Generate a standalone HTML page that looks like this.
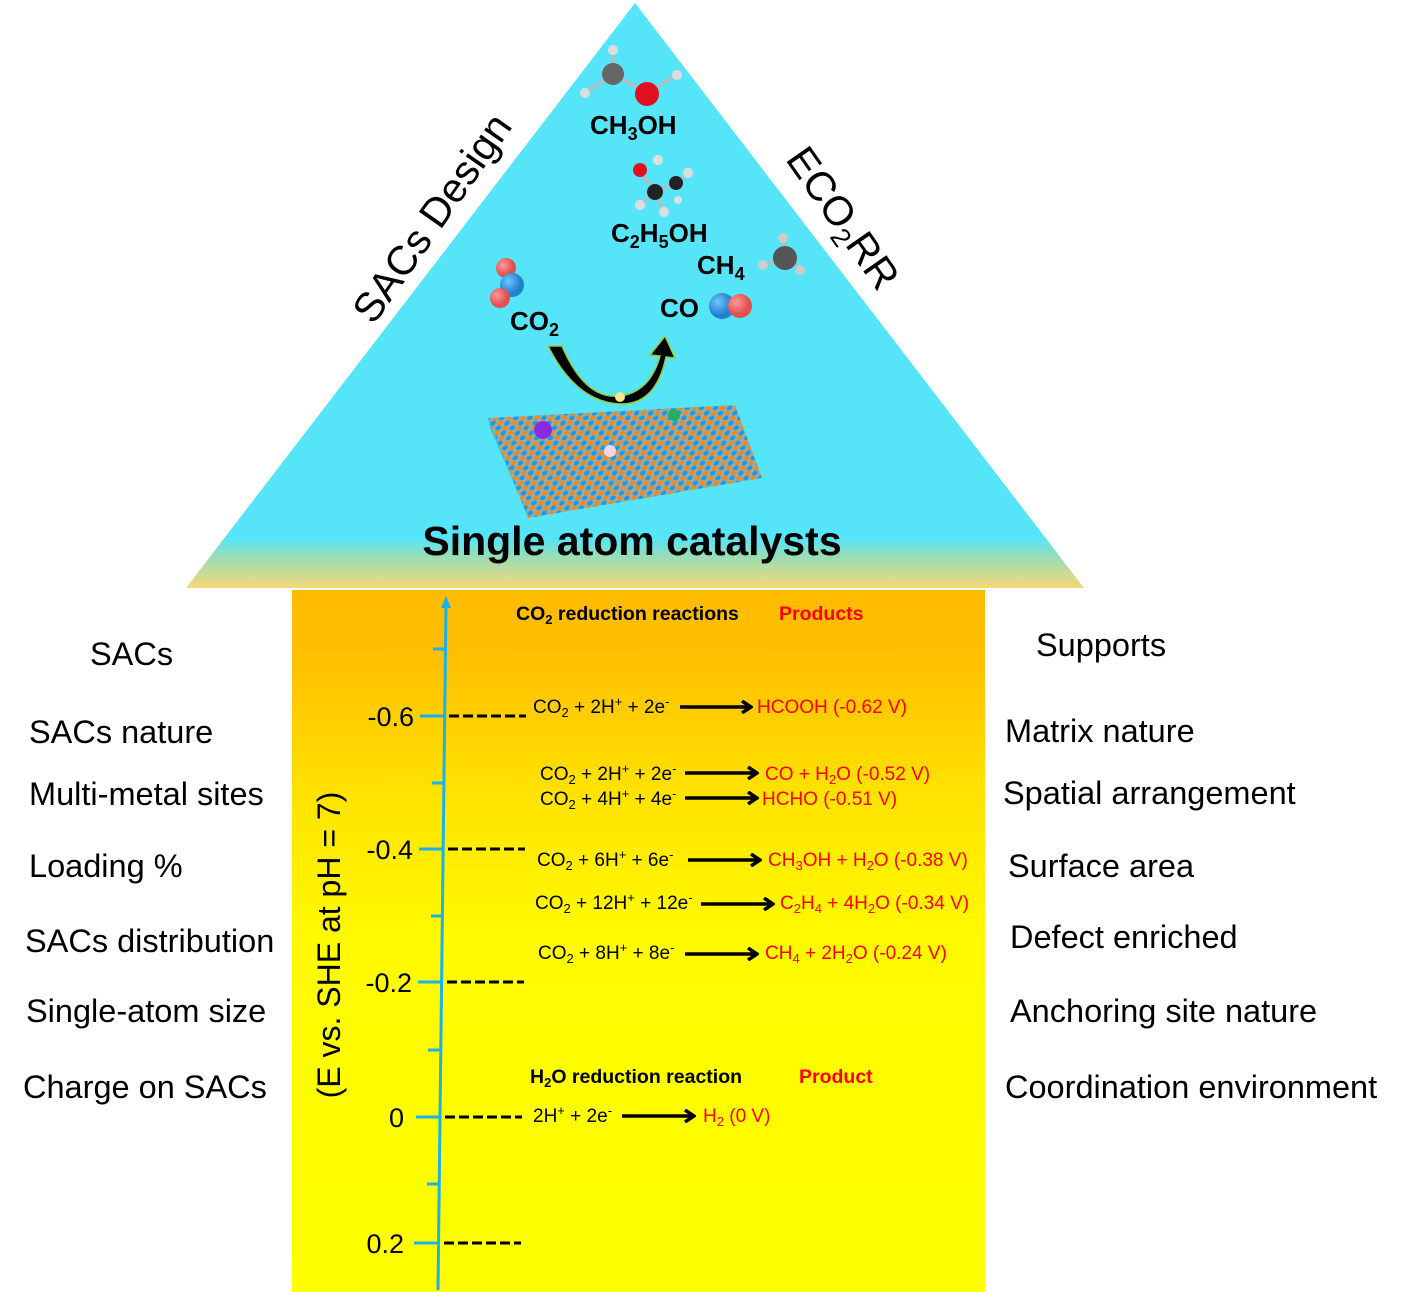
<!DOCTYPE html>
<html><head><meta charset="utf-8"><style>
html,body{margin:0;padding:0;background:#fff}
svg{display:block}
text{font-family:"Liberation Sans",sans-serif}
.l{font-size:32.5px;fill:#000}
.r{font-size:19px;fill:#000}
.p{font-size:19px;fill:#ff0000}
.b{font-weight:bold}
</style></head><body>
<svg width="1407" height="1292" viewBox="0 0 1407 1292" xmlns="http://www.w3.org/2000/svg">
<defs>
<linearGradient id="tri" x1="0" y1="0" x2="0" y2="1" gradientUnits="objectBoundingBox">
<stop offset="0" stop-color="#56E5F8"/><stop offset="0.915" stop-color="#56E5F8"/>
<stop offset="0.95" stop-color="#9FDDB0"/><stop offset="1" stop-color="#F6D877"/>
</linearGradient>
<linearGradient id="rect" x1="0" y1="0" x2="0" y2="1">
<stop offset="0" stop-color="#FFBB00"/><stop offset="0.1" stop-color="#FFC000"/><stop offset="0.3" stop-color="#FFE400"/><stop offset="0.5" stop-color="#FFFA00"/><stop offset="1" stop-color="#FFFF00"/>
</linearGradient>
<marker id="ah" markerWidth="12" markerHeight="14" refX="9" refY="7" orient="auto" markerUnits="userSpaceOnUse">
<path d="M1,1 L10,7 L1,13" fill="none" stroke="#000" stroke-width="3.5"/>
</marker>
<pattern id="lat" width="14" height="10" patternUnits="userSpaceOnUse" patternTransform="skewX(-20)">
<rect width="14" height="10" fill="#9aa"/>
<circle cx="3" cy="3" r="2.6" fill="#1E9BE0"/><circle cx="10" cy="3" r="2.6" fill="#F08A1C"/>
<circle cx="3" cy="8" r="2.6" fill="#F08A1C"/><circle cx="10" cy="8" r="2.6" fill="#1E9BE0"/>
</pattern>
<radialGradient id="red" cx="0.35" cy="0.35"><stop offset="0" stop-color="#ff9a9a"/><stop offset="1" stop-color="#e05050"/></radialGradient>
<radialGradient id="blu" cx="0.35" cy="0.35"><stop offset="0" stop-color="#6ec6ff"/><stop offset="1" stop-color="#2380d0"/></radialGradient>
</defs>

<polygon points="635,3 1084,588 186,588" fill="url(#tri)"/>
<rect x="292" y="590" width="693" height="702" fill="url(#rect)"/>

<text x="432" y="232" font-size="41" text-anchor="middle" transform="rotate(-55 432 218)">SACs Design</text>
<text x="843" y="232" font-size="41" text-anchor="middle" transform="rotate(55 843 218)">ECO<tspan font-size="27" dy="8">2</tspan><tspan dy="-8">RR</tspan></text>

<g stroke="#bbb" stroke-width="3">
<line x1="613" y1="74" x2="613" y2="50"/><line x1="613" y1="74" x2="585" y2="93"/><line x1="613" y1="74" x2="647" y2="93"/><line x1="647" y1="93" x2="677" y2="75"/>
<line x1="655" y1="192" x2="640" y2="170"/><line x1="655" y1="192" x2="676" y2="183"/><line x1="676" y1="183" x2="688" y2="173"/><line x1="655" y1="192" x2="640" y2="205"/><line x1="655" y1="192" x2="664" y2="212"/>
<line x1="785" y1="258" x2="783" y2="238"/><line x1="785" y1="258" x2="763" y2="265"/><line x1="785" y1="258" x2="800" y2="270"/>
</g>
<circle cx="613" cy="50" r="5" fill="#ddd"/><circle cx="585" cy="93" r="5" fill="#ddd"/><circle cx="677" cy="75" r="5" fill="#ddd"/>
<circle cx="613" cy="74" r="11" fill="#666"/><circle cx="647" cy="94" r="12" fill="#e01020"/>
<circle cx="640" cy="170" r="7" fill="#e01020"/><circle cx="658" cy="160" r="5" fill="#ddd"/><circle cx="655" cy="192" r="8" fill="#222"/><circle cx="676" cy="183" r="7" fill="#222"/>
<circle cx="688" cy="173" r="5" fill="#ddd"/><circle cx="640" cy="205" r="5" fill="#ddd"/><circle cx="664" cy="212" r="5" fill="#ddd"/><circle cx="678" cy="200" r="4" fill="#ddd"/>
<circle cx="783" cy="238" r="5" fill="#ccc"/><circle cx="763" cy="265" r="5" fill="#ccc"/><circle cx="800" cy="270" r="5" fill="#ccc"/><circle cx="785" cy="258" r="12" fill="#555"/>
<circle cx="506" cy="268" r="10" fill="url(#red)"/><circle cx="512" cy="285" r="12" fill="url(#blu)"/><circle cx="500" cy="298" r="10" fill="url(#red)"/>
<circle cx="722" cy="306" r="13" fill="url(#blu)"/><circle cx="740" cy="306" r="12" fill="url(#red)"/>

<g font-size="26" font-weight="bold">
<text x="590" y="134">CH<tspan font-size="18" dy="6">3</tspan><tspan dy="-6">OH</tspan></text>
<text x="611" y="242">C<tspan font-size="18" dy="6">2</tspan><tspan dy="-6">H</tspan><tspan font-size="18" dy="6">5</tspan><tspan dy="-6">OH</tspan></text>
<text x="697" y="274">CH<tspan font-size="18" dy="6">4</tspan></text>
<text x="510" y="330">CO<tspan font-size="18" dy="6">2</tspan></text>
<text x="660" y="317">CO</text>
</g>

<path d="M562,346 Q585,400 620,396 Q650,392 660,356 L650,355 L665,336 L675,358 L666,357 Q656,405 620,404 Q576,402 548,346 Z" fill="#000" stroke="#9acd32" stroke-width="1.5"/>
<circle cx="620" cy="397" r="5" fill="#f0e68c"/>

<polygon points="488,418 735,405 762,478 528,518" fill="url(#lat)"/>
<polygon points="488,418 528,518 526,512 490,428" fill="#1E9BE0" opacity="0.5"/>
<circle cx="543" cy="430" r="9" fill="#8a2be2"/><circle cx="674" cy="415" r="6" fill="#20b060"/><circle cx="610" cy="451" r="6" fill="#f5d5e5"/>

<text x="632" y="555" font-size="41" font-weight="bold" text-anchor="middle">Single atom catalysts</text>

<g stroke="#1AB2E8" stroke-width="3">
<line x1="438" y1="1290" x2="446" y2="604"/>
<line x1="420" y1="716" x2="444" y2="716"/><line x1="419" y1="849" x2="443" y2="849"/><line x1="418" y1="982" x2="442" y2="982"/><line x1="416" y1="1117" x2="440" y2="1117"/><line x1="414" y1="1243" x2="439" y2="1243"/>
<line x1="433" y1="649" x2="445" y2="649"/><line x1="432" y1="783" x2="444" y2="783"/><line x1="431" y1="916" x2="443" y2="916"/><line x1="428" y1="1050" x2="441" y2="1050"/><line x1="427" y1="1184" x2="440" y2="1184"/>
</g>
<polygon points="446,596 441,608 451,608" fill="#1AB2E8"/>
<g stroke="#000" stroke-width="3" stroke-dasharray="10,4">
<line x1="449" y1="716" x2="526" y2="716"/><line x1="448" y1="849" x2="525" y2="849"/><line x1="447" y1="982" x2="524" y2="982"/><line x1="445" y1="1117" x2="522" y2="1117"/><line x1="444" y1="1243" x2="521" y2="1243"/>
</g>
<g font-size="27" text-anchor="end">
<text x="414" y="726">-0.6</text><text x="413" y="859">-0.4</text><text x="412" y="992">-0.2</text><text x="404" y="1127">0</text><text x="404" y="1253">0.2</text>
</g>
<text x="340" y="945" font-size="32" text-anchor="middle" transform="rotate(-90 340 945)">(E vs. SHE at pH = 7)</text>

<text x="516" y="620" font-size="19.5" font-weight="bold">CO<tspan font-size="13" dy="4">2</tspan><tspan dy="-4"> reduction reactions</tspan></text>
<text x="779" y="620" font-size="19.5" font-weight="bold" fill="#ff0000">Products</text>
<text x="530" y="1083" font-size="19.5" font-weight="bold">H<tspan font-size="13" dy="4">2</tspan><tspan dy="-4">O reduction reaction</tspan></text>
<text x="799" y="1083" font-size="19.5" font-weight="bold" fill="#ff0000">Product</text>

<g stroke="#000" stroke-width="3.5" marker-end="url(#ah)">
<line x1="680" y1="707" x2="750" y2="707"/>
<line x1="685" y1="773" x2="756" y2="773"/>
<line x1="685" y1="798" x2="756" y2="798"/>
<line x1="688" y1="860" x2="759" y2="860"/>
<line x1="701" y1="904" x2="772" y2="904"/>
<line x1="685" y1="954" x2="756" y2="954"/>
<line x1="622" y1="1116" x2="693" y2="1116"/>
</g>
<g class="r">
<text x="533" y="713">CO<tspan font-size="13" dy="4">2</tspan><tspan dy="-4"> + 2H</tspan><tspan font-size="13" dy="-7">+</tspan><tspan dy="7"> + 2e</tspan><tspan font-size="13" dy="-7">-</tspan></text>
<text x="540" y="780">CO<tspan font-size="13" dy="4">2</tspan><tspan dy="-4"> + 2H</tspan><tspan font-size="13" dy="-7">+</tspan><tspan dy="7"> + 2e</tspan><tspan font-size="13" dy="-7">-</tspan></text>
<text x="540" y="805">CO<tspan font-size="13" dy="4">2</tspan><tspan dy="-4"> + 4H</tspan><tspan font-size="13" dy="-7">+</tspan><tspan dy="7"> + 4e</tspan><tspan font-size="13" dy="-7">-</tspan></text>
<text x="537" y="866">CO<tspan font-size="13" dy="4">2</tspan><tspan dy="-4"> + 6H</tspan><tspan font-size="13" dy="-7">+</tspan><tspan dy="7"> + 6e</tspan><tspan font-size="13" dy="-7">-</tspan></text>
<text x="535" y="909">CO<tspan font-size="13" dy="4">2</tspan><tspan dy="-4"> + 12H</tspan><tspan font-size="13" dy="-7">+</tspan><tspan dy="7"> + 12e</tspan><tspan font-size="13" dy="-7">-</tspan></text>
<text x="538" y="959">CO<tspan font-size="13" dy="4">2</tspan><tspan dy="-4"> + 8H</tspan><tspan font-size="13" dy="-7">+</tspan><tspan dy="7"> + 8e</tspan><tspan font-size="13" dy="-7">-</tspan></text>
<text x="533" y="1122">2H<tspan font-size="13" dy="-7">+</tspan><tspan dy="7"> + 2e</tspan><tspan font-size="13" dy="-7">-</tspan></text>
</g>
<g class="p">
<text x="757" y="713">HCOOH (-0.62 V)</text>
<text x="765" y="780">CO + H<tspan font-size="13" dy="4">2</tspan><tspan dy="-4">O (-0.52 V)</tspan></text>
<text x="762" y="805">HCHO (-0.51 V)</text>
<text x="768" y="866">CH<tspan font-size="13" dy="4">3</tspan><tspan dy="-4">OH + H</tspan><tspan font-size="13" dy="4">2</tspan><tspan dy="-4">O (-0.38 V)</tspan></text>
<text x="780" y="909">C<tspan font-size="13" dy="4">2</tspan><tspan dy="-4">H</tspan><tspan font-size="13" dy="4">4</tspan><tspan dy="-4"> + 4H</tspan><tspan font-size="13" dy="4">2</tspan><tspan dy="-4">O (-0.34 V)</tspan></text>
<text x="765" y="959">CH<tspan font-size="13" dy="4">4</tspan><tspan dy="-4">  + 2H</tspan><tspan font-size="13" dy="4">2</tspan><tspan dy="-4">O (-0.24 V)</tspan></text>
<text x="703" y="1122">H<tspan font-size="13" dy="4">2</tspan><tspan dy="-4"> (0 V)</tspan></text>
</g>

<g class="l">
<text x="90" y="665">SACs</text>
<text x="29" y="743">SACs nature</text>
<text x="29" y="805">Multi-metal sites</text>
<text x="29" y="877">Loading %</text>
<text x="25" y="952">SACs distribution</text>
<text x="26" y="1022">Single-atom size</text>
<text x="23" y="1098">Charge on SACs</text>
</g>
<g class="l">
<text x="1036" y="656">Supports</text>
<text x="1005" y="742">Matrix nature</text>
<text x="1003" y="804">Spatial arrangement</text>
<text x="1008" y="877">Surface area</text>
<text x="1010" y="948">Defect enriched</text>
<text x="1010" y="1022">Anchoring site nature</text>
<text x="1005" y="1098">Coordination environment</text>
</g>
</svg>
</body></html>
